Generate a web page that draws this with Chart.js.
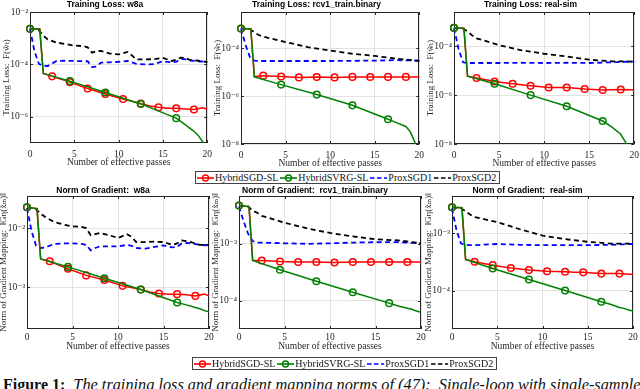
<!DOCTYPE html>
<html>
<head>
<meta charset="utf-8">
<script src="https://cdn.jsdelivr.net/npm/chart.js@4.4.1/dist/chart.umd.min.js"></script>
<style>
  html, body { margin: 0; padding: 0; width: 640px; height: 389px; overflow: hidden; background: #fff; }
  .panel { position: absolute; }
  .legend { position: absolute; display: flex; align-items: center; box-sizing: border-box; height: 13px;
            border: 1px solid #444; background: #fff; padding: 0 1px; white-space: nowrap;
            font: 10px "Liberation Serif", "DejaVu Serif", serif; color: #111; }
  .legend .item { display: flex; align-items: center; margin-right: 2px; }
  .legend svg { margin-right: 1px; }
  #caption { position: absolute; left: 3px; top: 377px; white-space: nowrap; color: #111;
             font: 16px/16px "Liberation Serif", "DejaVu Serif", serif; }
  #caption i { font-size: 16.3px; }
</style>
</head>
<body>
<div class="panel" id="p1"><canvas></canvas></div>
<div class="panel" id="p2"><canvas></canvas></div>
<div class="panel" id="p3"><canvas></canvas></div>
<div class="panel" id="p4"><canvas></canvas></div>
<div class="panel" id="p5"><canvas></canvas></div>
<div class="panel" id="p6"><canvas></canvas></div>

<div class="legend" id="legTop" style="left:195px; top:171px;"></div>
<div class="legend" id="legBottom" style="left:192px; top:357px;"></div>

<div id="caption"><b>Figure 1:</b>&nbsp; <i>The training loss and gradient mapping norms of (47):&nbsp; Single-loop with single-sample</i></div>

<script>
// x positions (number of effective passes)
const passTicks = [0, 5, 10, 15, 20];
const sgdX = [0, 1.1, 1.5, 2.5, 4.5, 6.5, 8.5, 10.5, 12.5, 13.5, 14.5, 15.5, 16.5, 17.5, 18.5, 19.5, 20];
const svrgX = [0, 1.1, 1.5, 4.5, 8.5, 12.5, 16.5, 17.5, 18.5, 19, 19.5, 20];
const proxXw8a = [0, 0.5, 1, 1.5, 2, 3, 4, 5, 6, 6.5, 7, 7.5, 8, 9, 10, 11, 11.5, 12, 13, 14, 15, 16, 16.5, 17, 17.5, 18, 19, 20];
const proxX = [0, 0.5, 1, 1.5, 2, 2.5, 5, 7.5, 10, 12.5, 15, 17.5, 20];
const sgdMarks = [0, 2.5, 4.5, 6.5, 8.5, 10.5, 12.5, 14.5, 16.5, 18.5];
const svrgMarks = [0, 4.5, 8.5, 12.5, 16.5];

// training loss
const w8aLossSGD = [2.3e-3, 2.3e-3, 4.5e-5, 3.5e-5, 2.1e-5, 1.2e-5, 7.4e-6, 4.8e-6, 3.2e-6, 2.6e-6, 2.3e-6, 2.1e-6, 2.1e-6, 2.0e-6, 1.9e-6, 2.2e-6, 1.95e-6];
const w8aLossSVRG = [2.3e-3, 2.2e-3, 4.5e-5, 2.3e-5, 8.5e-6, 3.1e-6, 8.9e-7, 5.0e-7, 2.8e-7, 1.9e-7, 1.1e-7, 5e-8];
const w8aLossProx1 = [2.34e-3, 3.2e-4, 1.05e-4, 8.9e-5, 8.7e-5, 1.35e-4, 1.38e-4, 1.35e-4, 1.32e-4, 1.32e-4, 7.9e-5, 8.3e-5, 1.17e-4, 1.2e-4, 1.26e-4, 1.35e-4, 1.2e-4, 1.05e-4, 1.0e-4, 1.02e-4, 1.32e-4, 1.2e-4, 1.26e-4, 1.58e-4, 1.58e-4, 1.41e-4, 1.32e-4, 1.23e-4];
const w8aLossProx2 = [2.34e-3, 2.29e-3, 2.0e-3, 1.26e-3, 8.9e-4, 6.8e-4, 6.0e-4, 5.2e-4, 5.0e-4, 4.5e-4, 2.8e-4, 3.2e-4, 3.3e-4, 2.6e-4, 2.4e-4, 3.0e-4, 2.2e-4, 1.55e-4, 1.55e-4, 1.58e-4, 1.78e-4, 1.35e-4, 1.5e-4, 1.8e-4, 1.78e-4, 1.5e-4, 1.38e-4, 1.23e-4];

const rcv1LossSGD = [6.5e-4, 6.3e-4, 6.5e-6, 7.1e-6, 6.5e-6, 6.0e-6, 6.2e-6, 6.0e-6, 6.3e-6, 6.3e-6, 6.2e-6, 6.3e-6, 6.3e-6, 6.3e-6, 6.3e-6, 6.2e-6, 6.2e-6];
const rcv1LossSVRG = [6.5e-4, 6.3e-4, 6.2e-6, 3.0e-6, 1.15e-6, 4.1e-7, 1.07e-7, 7.6e-8, 5.4e-8, 3.2e-8, 1.2e-8, 4e-9];
const rcv1LossProx1 = [6.5e-4, 1.4e-4, 4.2e-5, 3.0e-5, 2.9e-5, 2.9e-5, 2.9e-5, 2.9e-5, 2.9e-5, 2.95e-5, 3.0e-5, 3.15e-5, 3.0e-5];
const rcv1LossProx2 = [6.5e-4, 6.5e-4, 6.2e-4, 4.5e-4, 3.5e-4, 3.0e-4, 1.78e-4, 1.1e-4, 7.9e-5, 5.8e-5, 4.7e-5, 3.6e-5, 2.9e-5];

const simLossSGD = [5.6e-4, 5.4e-4, 5.9e-6, 5.0e-6, 3.6e-6, 2.9e-6, 2.4e-6, 2.05e-6, 2.05e-6, 1.9e-6, 1.78e-6, 1.7e-6, 1.62e-6, 1.66e-6, 1.7e-6, 1.66e-6, 1.62e-6];
const simLossSVRG = [5.6e-4, 5.4e-4, 5.9e-6, 2.9e-6, 1.0e-6, 3.5e-7, 8.7e-8, 5.0e-8, 2.5e-8, 1.26e-8, 5.6e-9, 2.5e-9];
const simLossProx1 = [5.6e-4, 7.9e-5, 2.2e-5, 2.05e-5, 2.05e-5, 2.05e-5, 2.05e-5, 2.1e-5, 2.05e-5, 2.1e-5, 2.05e-5, 2.2e-5, 2.35e-5];
const simLossProx2 = [5.6e-4, 5.5e-4, 5.2e-4, 4.0e-4, 2.8e-4, 2.1e-4, 1.1e-4, 6.8e-5, 4.9e-5, 3.8e-5, 2.8e-5, 2.4e-5, 2.35e-5];

// norm of gradient mapping
const w8aGradSGD = [2.26e-2, 2.14e-2, 3.0e-3, 2.75e-3, 2.05e-3, 1.58e-3, 1.32e-3, 1.05e-3, 9.1e-4, 8.3e-4, 7.8e-4, 7.6e-4, 7.6e-4, 7.4e-4, 7.1e-4, 7.6e-4, 7.1e-4];
const w8aGradSVRG = [2.26e-2, 2.14e-2, 3.0e-3, 2.2e-3, 1.41e-3, 9.1e-4, 5.5e-4, 5.0e-4, 4.5e-4, 4.3e-4, 4.0e-4, 3.8e-4];
const w8aGradProx1 = [2.19e-2, 8.9e-3, 5.0e-3, 4.6e-3, 4.7e-3, 5.4e-3, 5.5e-3, 5.5e-3, 5.4e-3, 5.2e-3, 4.2e-3, 4.6e-3, 4.9e-3, 4.9e-3, 4.9e-3, 5.2e-3, 5.0e-3, 4.6e-3, 4.5e-3, 4.8e-3, 5.1e-3, 4.7e-3, 4.8e-3, 5.5e-3, 5.6e-3, 5.5e-3, 5.2e-3, 5.1e-3];
const w8aGradProx2 = [2.24e-2, 2.19e-2, 2.09e-2, 1.74e-2, 1.55e-2, 1.26e-2, 1.15e-2, 1.07e-2, 1.05e-2, 1.0e-2, 7.6e-3, 7.9e-3, 8.3e-3, 7.6e-3, 6.8e-3, 7.9e-3, 7.1e-3, 5.8e-3, 5.8e-3, 5.9e-3, 5.8e-3, 5.2e-3, 5.5e-3, 6.2e-3, 6.0e-3, 5.8e-3, 5.2e-3, 5.2e-3];

const rcv1GradSGD = [4.7e-3, 4.5e-3, 5.1e-4, 5.1e-4, 4.9e-4, 4.8e-4, 4.8e-4, 4.7e-4, 4.8e-4, 4.8e-4, 4.8e-4, 4.8e-4, 4.8e-4, 4.8e-4, 4.8e-4, 4.8e-4, 4.8e-4];
const rcv1GradSVRG = [4.7e-3, 4.5e-3, 5.1e-4, 3.5e-4, 2.2e-4, 1.41e-4, 9.1e-5, 8.1e-5, 7.4e-5, 7.1e-5, 6.6e-5, 6.3e-5];
const rcv1GradProx1 = [4.5e-3, 2.5e-3, 1.51e-3, 1.12e-3, 1.05e-3, 1.05e-3, 1.02e-3, 1.0e-3, 1.02e-3, 1.05e-3, 1.07e-3, 1.07e-3, 1.02e-3];
const rcv1GradProx2 = [4.7e-3, 4.6e-3, 4.5e-3, 3.8e-3, 3.5e-3, 3.1e-3, 2.35e-3, 1.86e-3, 1.55e-3, 1.35e-3, 1.2e-3, 1.15e-3, 1.02e-3];

const simGradSGD = [2.8e-3, 2.75e-3, 3.5e-4, 3.2e-4, 2.8e-4, 2.5e-4, 2.3e-4, 2.2e-4, 2.15e-4, 2.1e-4, 2.1e-4, 2.05e-4, 2.0e-4, 2.0e-4, 2.0e-4, 1.95e-4, 1.95e-4];
const simGradSVRG = [2.8e-3, 2.75e-3, 3.5e-4, 2.45e-4, 1.58e-4, 1.02e-4, 6.5e-5, 5.9e-5, 5.2e-5, 5.0e-5, 4.7e-5, 4.5e-5];
const simGradProx1 = [2.7e-3, 1.12e-3, 6.6e-4, 6.3e-4, 6.2e-4, 6.2e-4, 6.5e-4, 6.3e-4, 6.2e-4, 6.2e-4, 6.2e-4, 6.3e-4, 6.5e-4];
const simGradProx2 = [2.8e-3, 2.75e-3, 2.7e-3, 2.4e-3, 2.1e-3, 1.9e-3, 1.55e-3, 1.17e-3, 9.1e-4, 7.9e-4, 7.1e-4, 6.6e-4, 6.6e-4];

// y ranges and tick labels
const w8aLossRange = [1e-7, 1e-2], w8aLossTicks = [1e-6, 1e-4, 1e-2];
const rcv1LossRange = [1e-8, 3.2e-3], rcv1LossTicks = [1e-8, 1e-6, 1e-4];
const simLossRange = [1e-8, 2.5e-3], simLossTicks = [1e-8, 1e-6, 1e-4];
const w8aGradRange = [1.95e-4, 3.5e-2], w8aGradTicks = [1e-3, 1e-2];
const rcv1GradRange = [3.2e-5, 6.9e-3], rcv1GradTicks = [1e-4, 1e-3];
const simGradRange = [2.2e-5, 4.4e-3], simGradTicks = [1e-4, 1e-3];

const seriesNames = ['HybridSGD-SL', 'HybridSVRG-SL', 'ProxSGD1', 'ProxSGD2'];
const lossLabel = 'Training Loss:  F(w\u0303\u209C)';
const gradLabel = 'Norm of Gradient Mapping:  \u2016G\u03B7(x\u0303\u2098)\u2016';

const RED = '#ff0000', GREEN = '#008000', BLUE = '#0000ff', BLACK = '#000000';
const serif = '"Liberation Serif", "DejaVu Serif", serif';
Chart.defaults.font.family = serif;
Chart.defaults.color = '#262626';

const SUP = { '-': '\u207B', '0': '\u2070', '1': '\u00B9', '2': '\u00B2', '3': '\u00B3', '4': '\u2074',
              '5': '\u2075', '6': '\u2076', '7': '\u2077', '8': '\u2078', '9': '\u2079' };
const powLabel = v => '10' + String(Math.round(Math.log10(v))).split('').map(c => SUP[c]).join('');

// box + inward ticks like matlab axes
const framePlugin = {
    id: 'frame',
    beforeDatasetsDraw(chart) {
        const { ctx, chartArea: a, scales: { x, y } } = chart;
        ctx.save();
        ctx.strokeStyle = '#262626';
        ctx.lineWidth = 1;
        ctx.strokeRect(Math.round(a.left) + 0.5, Math.round(a.top) + 0.5, Math.round(a.width) - 1, Math.round(a.height) - 1);
        ctx.beginPath();
        x.ticks.forEach(t => {
            const px = Math.round(x.getPixelForValue(t.value)) + 0.5;
            ctx.moveTo(px, a.bottom); ctx.lineTo(px, a.bottom - 3);
            ctx.moveTo(px, a.top); ctx.lineTo(px, a.top + 3);
        });
        y.ticks.forEach(t => {
            const py = Math.round(y.getPixelForValue(t.value)) + 0.5;
            ctx.moveTo(a.left, py); ctx.lineTo(a.left + 3, py);
            ctx.moveTo(a.right, py); ctx.lineTo(a.right - 3, py);
        });
        ctx.stroke();
        ctx.restore();
    }
};

function series(label, xs, ys, color, dash, marks) {
    return {
        label,
        data: xs.map((x, i) => ({ x, y: ys[i] })),
        borderColor: color,
        borderWidth: dash.length ? 1.8 : 1.5,
        borderDash: dash,
        tension: 0,
        fill: false,
        clip: { left: 6, right: 6, top: 6, bottom: 0 },
        pointStyle: 'circle',
        pointRadius: ctx => (marks && ctx.raw && marks.includes(ctx.raw.x)) ? 3.3 : 0,
        pointBorderWidth: 1.5,
        pointBorderColor: color,
        pointBackgroundColor: 'rgba(0,0,0,0)',
        pointHoverRadius: 0
    };
}

const panels = [
    { id: 'p1', row: 0, L: 30, R: 210, T: 12, B: 143, title: 'Training Loss: w8a', yTitle: lossLabel,
      sgd: w8aLossSGD, svrg: w8aLossSVRG, px: proxXw8a, prox1: w8aLossProx1, prox2: w8aLossProx2, range: w8aLossRange, ticks: w8aLossTicks },
    { id: 'p2', row: 0, L: 241, R: 422, T: 12, B: 144, title: 'Training Loss: rcv1_train.binary', yTitle: lossLabel,
      sgd: rcv1LossSGD, svrg: rcv1LossSVRG, px: proxX, prox1: rcv1LossProx1, prox2: rcv1LossProx2, range: rcv1LossRange, ticks: rcv1LossTicks },
    { id: 'p3', row: 0, L: 454, R: 637, T: 12, B: 144, title: 'Training Loss: real-sim', yTitle: lossLabel,
      sgd: simLossSGD, svrg: simLossSVRG, px: proxX, prox1: simLossProx1, prox2: simLossProx2, range: simLossRange, ticks: simLossTicks },
    { id: 'p4', row: 1, L: 27, R: 209, T: 196, B: 329, title: 'Norm of Gradient:  w8a', yTitle: gradLabel,
      sgd: w8aGradSGD, svrg: w8aGradSVRG, px: proxXw8a, prox1: w8aGradProx1, prox2: w8aGradProx2, range: w8aGradRange, ticks: w8aGradTicks },
    { id: 'p5', row: 1, L: 239, R: 421, T: 196, B: 329, title: 'Norm of Gradient:  rcv1_train.binary', yTitle: gradLabel,
      sgd: rcv1GradSGD, svrg: rcv1GradSVRG, px: proxX, prox1: rcv1GradProx1, prox2: rcv1GradProx2, range: rcv1GradRange, ticks: rcv1GradTicks },
    { id: 'p6', row: 1, L: 452, R: 633, T: 196, B: 329, title: 'Norm of Gradient:  real-sim', yTitle: gradLabel,
      sgd: simGradSGD, svrg: simGradSVRG, px: proxX, prox1: simGradProx1, prox2: simGradProx2, range: simGradRange, ticks: simGradTicks }
];

const Y_W = 30, PAD_R = 8, TITLE_H = 12;

panels.forEach(p => {
    const xh = p.row === 0 ? 28 : 24;
    const box = document.getElementById(p.id);
    box.style.left = (p.L - Y_W) + 'px';
    box.style.top = (p.T - TITLE_H) + 'px';
    box.style.width = (p.R + PAD_R - p.L + Y_W) + 'px';
    box.style.height = (p.B + xh - p.T + TITLE_H) + 'px';
    const titlePadTop = p.row === 0 ? 0 : 1.8;

    new Chart(box.querySelector('canvas'), {
        type: 'line',
        data: {
            datasets: [
                series(seriesNames[1], svrgX, p.svrg, GREEN, [], svrgMarks),
                series(seriesNames[0], sgdX, p.sgd, RED, [], sgdMarks),
                series(seriesNames[3], p.px, p.prox2, BLACK, [5, 3.5], null),
                series(seriesNames[2], p.px, p.prox1, BLUE, [5, 3.5], null)
            ]
        },
        options: {
            responsive: true,
            maintainAspectRatio: false,
            animation: false,
            devicePixelRatio: 1,
            events: [],
            layout: { padding: { left: 0, right: PAD_R, top: 0, bottom: 0 } },
            plugins: {
                legend: { display: false },
                tooltip: { enabled: false },
                title: {
                    display: true,
                    text: p.title,
                    color: '#000',
                    font: { family: '"Liberation Sans", Arial, sans-serif', size: 8.5, weight: 'bold' },
                    padding: { top: titlePadTop, bottom: TITLE_H - 10.2 - titlePadTop }
                }
            },
            scales: {
                x: {
                    type: 'linear',
                    min: 0,
                    max: 20,
                    afterBuildTicks: s => { s.ticks = passTicks.map(v => ({ value: v })); },
                    afterFit: s => { s.height = xh; },
                    grid: { color: '#e2e2e2', drawTicks: false },
                    border: { display: false },
                    ticks: { padding: p.row === 0 ? 6 : 3, font: { size: 9.5 }, color: '#262626', maxRotation: 0 },
                    title: {
                        display: true,
                        text: 'Number of effective passes',
                        font: { size: 9.5 },
                        color: '#262626',
                        padding: { top: 0, bottom: p.row === 0 ? 2.6 : 0.6 }
                    }
                },
                y: {
                    type: 'logarithmic',
                    min: p.range[0],
                    max: p.range[1],
                    afterBuildTicks: s => { s.ticks = p.ticks.map(v => ({ value: v })); },
                    afterFit: s => { s.width = Y_W; },
                    grid: { color: '#e2e2e2', drawTicks: false },
                    border: { display: false },
                    ticks: { padding: 2, font: { size: 9.5 }, color: '#262626', callback: v => powLabel(v) },
                    title: {
                        display: true,
                        text: p.yTitle,
                        font: { size: 9 },
                        color: '#262626',
                        padding: { top: 1, bottom: 0 }
                    }
                }
            }
        },
        plugins: [framePlugin]
    });
});

// legends
function sample(color, dashed, marker) {
    const dash = dashed ? ' stroke-dasharray="4.5 2.5"' : '';
    const circ = marker ? `<circle cx="8.5" cy="5" r="3" fill="none" stroke="${color}" stroke-width="1.4"/>` : '';
    return `<svg width="17" height="10"><line x1="0" y1="5" x2="17" y2="5" stroke="${color}" stroke-width="1.6"${dash}/>${circ}</svg>`;
}
const legendHTML = [
    [seriesNames[0], RED, false, true],
    [seriesNames[1], GREEN, false, true],
    [seriesNames[2], BLUE, true, false],
    [seriesNames[3], BLACK, true, false]
].map(([name, c, d, m]) => `<span class="item">${sample(c, d, m)}<span>${name}</span></span>`).join('');
document.getElementById('legTop').innerHTML = legendHTML;
document.getElementById('legBottom').innerHTML = legendHTML;
</script>
</body>
</html>
